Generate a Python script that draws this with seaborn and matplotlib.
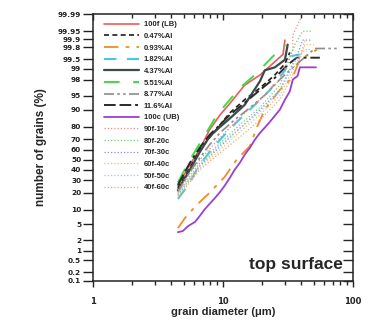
import math
import numpy as np
import pandas as pd
import matplotlib
matplotlib.use("Agg")
import matplotlib.pyplot as plt
from matplotlib.ticker import FixedLocator, NullLocator, NullFormatter
import seaborn as sns

# grain diameter (um) and cumulative number of grains (%) per sample
lb_d = [4.5, 5.57, 6.65, 7.9, 9.5, 11.3, 14.7, 19.3, 25.1, 29.0, 30.0]
lb_p = [25.3, 45, 61, 78, 87.5, 92.5, 97.2, 98.5, 99.4, 99.65, 99.89]

al047_d = [4.5, 5.57, 6.65, 7.9, 9.5, 11.3, 14.7, 19.3, 25.1, 30.0, 32.7]
al047_p = [23.5, 42, 60, 71.5, 81.5, 88.5, 93.8, 96.7, 98.5, 99.3, 99.7]

al093_d = [4.5, 5.1, 6.2, 7.9, 10.3, 12.7, 16.1, 18.3, 21.0, 27.4, 34.5, 39.0, 53.0]
al093_p = [4.0, 6.8, 12.0, 20.0, 33.0, 50.0, 63.5, 80.0, 90.0, 96.3, 98.3, 99.48, 99.76]

al182_d = [4.5, 5.57, 6.4, 7.9, 9.5, 12.6, 17.6, 23.0, 30.0, 33.5, 39.0]
al182_p = [15.8, 27.8, 42, 58, 69.6, 82.8, 92, 96.3, 98.9, 99.6, 99.65]

al437_d = [4.5, 5.57, 6.65, 7.9, 9.5, 11.3, 14.7, 19.3, 21.0, 25.1, 30.0, 31.5]
al437_p = [22, 40, 58, 72.5, 80, 85.5, 92, 97.8, 98.9, 99.1, 99.48, 99.84]

al551_d = [4.5, 5.57, 6.65, 7.7, 9.0, 10.9, 13.5, 16.9, 21.0, 25.1, 29.2, 30.5]
al551_p = [28, 50, 66.5, 78, 87.5, 93, 96.7, 98.3, 99.25, 99.65, 99.83, 99.83]

al877_d = [4.5, 5.57, 6.65, 7.9, 9.5, 12.3, 16.1, 21.0, 27.4, 32.7, 39.0, 51.0, 79.0]
al877_p = [20.5, 38, 52, 65, 75.5, 84.7, 90.8, 95.1, 98.0, 98.9, 99.4, 99.78, 99.78]

al116_d = [4.5, 5.57, 6.65, 7.9, 9.5, 11.3, 14.7, 19.3, 25.1, 31.5, 37.0, 55.7]
al116_p = [26, 47, 62.5, 73.9, 81.5, 87.5, 92.8, 96.3, 98.2, 99.25, 99.55, 99.55]

ub_d = [4.5, 4.9, 5.4, 6.1, 6.65, 7.3, 7.9, 8.7, 9.5, 10.3, 11.3, 12.3, 13.5, 14.7,
        16.1, 17.6, 19.3, 21.0, 23.0, 25.1, 27.4, 30.0, 32.7, 34.5, 37.5, 39.1, 52.0]
ub_p = [3.2, 3.4, 4.5, 5.6, 7.6, 10.5, 13.0, 16.5, 20.5, 25.3, 32.2, 39.9, 47, 55.1,
        62, 69.6, 75.5, 79.5, 83.5, 87, 90, 93.8, 96, 98, 98.4, 99.1, 99.1]

m90_d = [4.5, 6.65, 9.5, 13.5, 19.3, 27.4, 34.5, 34.5, 41.0]
m90_p = [22, 50, 71.5, 86, 93.8, 98, 99.76, 99.93, 99.99]
m80_d = [4.5, 6.65, 9.5, 13.5, 19.3, 27.4, 35.8, 41.0, 48.5]
m80_p = [20, 47, 66.5, 81.5, 91, 97.2, 99.84, 99.95, 99.95]
m70_d = [4.5, 6.65, 9.5, 13.5, 19.3, 27.4, 37.5, 41.0, 48.5]
m70_p = [18.5, 44, 63, 79, 90, 96.3, 99.65, 99.89, 99.89]
m60_d = [4.5, 6.65, 9.5, 13.5, 19.3, 27.4, 38.0, 43.0, 50.0]
m60_p = [17.8, 42, 60, 76.3, 87.5, 95.1, 99.48, 99.84, 99.84]
m50_d = [4.5, 6.65, 9.5, 13.5, 19.3, 27.4, 35.8, 43.0, 48.5]
m50_p = [19, 45, 65, 79, 89, 96, 99.4, 99.76, 99.76]
m40_d = [4.5, 6.65, 9.5, 13.5, 19.3, 27.4, 38.0, 43.0]
m40_p = [17, 40, 57, 72, 84.7, 93.8, 99.25, 99.9]

names = ["100f (LB)", "0.47%Al", "0.93%Al", "1.82%Al", "4.37%Al", "5.51%Al",
         "8.77%Al", "11.6%Al", "100c (UB)", "90f-10c", "80f-20c", "70f-30c",
         "60f-40c", "50f-50c", "40f-60c"]
curves = [(lb_d, lb_p), (al047_d, al047_p), (al093_d, al093_p), (al182_d, al182_p),
          (al437_d, al437_p), (al551_d, al551_p), (al877_d, al877_p), (al116_d, al116_p),
          (ub_d, ub_p), (m90_d, m90_p), (m80_d, m80_p), (m70_d, m70_p),
          (m60_d, m60_p), (m50_d, m50_p), (m40_d, m40_p)]

yticks = [0.1, 0.2, 0.5, 1, 2, 5, 10, 20, 30, 40, 50, 60, 70, 80, 90, 95, 98, 99,
          99.5, 99.8, 99.9, 99.95, 99.99]
ytick_labels = ["0.1", "0.2", "0.5", "1", "2", "5", "10", "20", "30", "40", "50", "60",
                "70", "80", "90", "95", "98", "99", "99.5", "99.8", "99.9", "99.95", "99.99"]

colors = ["#ee5a5a", "#1e1e1e", "#f28c28", "#4cc4ea", "#3c4a4a", "#3fdc3f",
          "#8c8c8c", "#2a2a2a", "#9b3fd0", "#f08a8a", "#6fd46f", "#8a8af0",
          "#e6c266", "#86d2f0", "#f2a67a"]
dots = (1, 1.6)
dashes = ["", (3, 2), (8, 4, 2, 4), (6, 5), "", (8, 7), (6, 2, 1.5, 2, 1.5, 2),
          (6, 2, 6, 2, 1.5, 2), "", dots, dots, dots, dots, dots, dots]
widths = [1.2, 1.2, 1.3, 1.5, 1.6, 1.4, 1.2, 1.4, 1.3, 0.9, 0.9, 0.9, 0.9, 0.9, 0.9]

rows = []
for name, (d, p) in zip(names, curves):
    for a, b in zip(d, p):
        rows.append((name, a, b))
df = pd.DataFrame(rows, columns=["sample", "diameter", "percent"])

# normal probability scale for the y axis
zgrid = np.linspace(-5, 5, 40001)
pgrid = 50 * (1 + np.array([math.erf(z / math.sqrt(2)) for z in zgrid]))


def fwd(p):
    return np.interp(p, pgrid, zgrid)


def inv(z):
    return np.interp(z, zgrid, pgrid)


sns.set_style("ticks")
plt.rcParams["font.family"] = ["Liberation Sans", "DejaVu Sans"]
plt.rcParams["font.weight"] = "bold"

fig = plt.figure(figsize=(3.75, 3.21), dpi=100)
ax = fig.add_axes([0.248, 0.126, 0.693, 0.829])
ax.set_xscale("log")
ax.set_yscale("function", functions=(fwd, inv))

sns.lineplot(data=df, x="diameter", y="percent", hue="sample", style="sample",
             size="sample", palette=dict(zip(names, colors)),
             dashes=dict(zip(names, dashes)), sizes=dict(zip(names, widths)),
             hue_order=names, style_order=names, size_order=names,
             estimator=None, sort=False, ax=ax)

ax.set_xlim(1, 100)
ax.set_ylim(0.1, 99.99)
ax.yaxis.set_major_locator(FixedLocator(yticks))
ax.set_yticklabels(ytick_labels, family="DejaVu Sans", fontsize=5.3, fontweight="bold")
ax.yaxis.set_minor_locator(NullLocator())
ax.set_xticks([1, 10, 100])
ax.set_xticklabels(["1", "10", "100"], family="DejaVu Sans", fontsize=6, fontweight="bold")
ax.xaxis.set_minor_locator(FixedLocator([k * 10 ** e for e in (0, 1) for k in range(2, 10)]))
ax.xaxis.set_minor_formatter(NullFormatter())

ax.tick_params(axis="y", which="major", direction="out", length=7, width=1,
               pad=1.5, colors="#222222")
ax.tick_params(axis="x", which="major", direction="out", length=4.5, width=1,
               pad=7, colors="#222222")
ax.tick_params(axis="x", which="minor", direction="out", length=3, width=1)
for s in ax.spines.values():
    s.set_visible(True)
    s.set_linewidth(1.1)
    s.set_color("#222222")

# mirrored axes, ticks pointing inward
axr = ax.twinx()
axr.set_yscale("function", functions=(fwd, inv))
axr.set_ylim(0.1, 99.99)
axr.yaxis.set_major_locator(FixedLocator(yticks))
axr.yaxis.set_minor_locator(NullLocator())
axr.tick_params(axis="y", direction="in", length=7, width=1, labelright=False)
axt = ax.twiny()
axt.set_xscale("log")
axt.set_xlim(1, 100)
axt.set_xticks([1, 10, 100])
axt.xaxis.set_minor_locator(FixedLocator([k * 10 ** e for e in (0, 1) for k in range(2, 10)]))
axt.xaxis.set_minor_formatter(NullFormatter())
axt.tick_params(axis="x", which="major", direction="in", length=4.5, width=1, labeltop=False)
axt.tick_params(axis="x", which="minor", direction="in", length=3, width=1)
for a in (axr, axt):
    for s in a.spines.values():
        s.set_visible(False)

ax.set_xlabel("grain diameter (\u03bcm)", fontsize=8, fontweight="bold", labelpad=1)
ax.set_ylabel("number of grains (%)", fontsize=8.5, fontweight="bold", labelpad=8)

old = ax.get_legend()
handles = old.legend_handles
labels = [t.get_text() for t in old.get_texts()]
old.remove()
ax.legend(handles, labels, loc="upper left", bbox_to_anchor=(0.02, 0.995),
          frameon=False, prop={"size": 5.5, "weight": "bold"},
          handlelength=4.7, handletextpad=0.6, labelspacing=0.56, borderpad=0.2)

ax.text(0.96, 0.06, "top surface", transform=ax.transAxes, ha="right", va="center",
        fontsize=12.5, fontweight="bold")

fig.savefig("out.png", dpi=100)
